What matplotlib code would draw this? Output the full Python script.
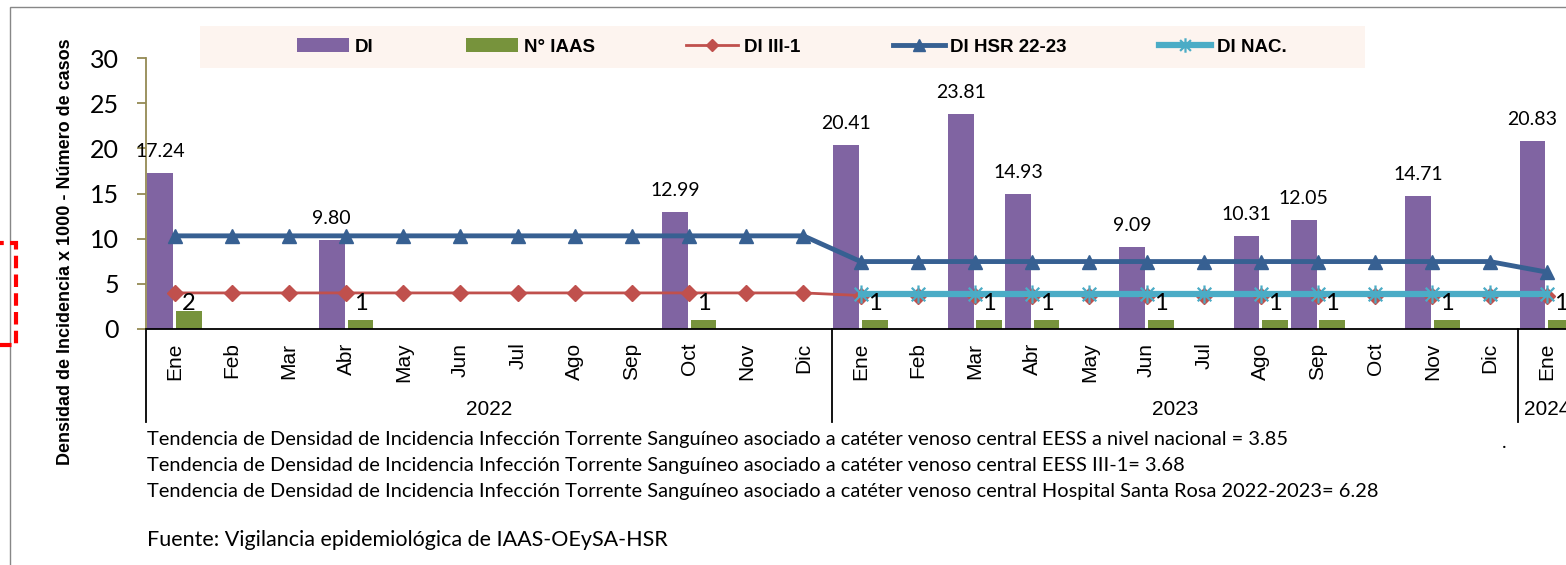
import matplotlib
matplotlib.use("Agg")
import matplotlib.pyplot as plt
import numpy as np
from matplotlib.patches import Rectangle
from matplotlib.path import Path

W, H = 1566, 565

months = ["Ene", "Feb", "Mar", "Abr", "May", "Jun", "Jul", "Ago", "Sep", "Oct", "Nov", "Dic",
          "Ene", "Feb", "Mar", "Abr", "May", "Jun", "Jul", "Ago", "Sep", "Oct", "Nov", "Dic",
          "Ene"]
years = ["2022", "2023", "2024"]
year_first = [0, 12, 24]
year_last = [11, 23, 24]

di = [17.24, 0, 0, 9.80, 0, 0, 0, 0, 0, 12.99, 0, 0,
      20.41, 0, 23.81, 14.93, 0, 9.09, 0, 10.31, 12.05, 0, 14.71, 0,
      20.83]
n_iaas = [2, 0, 0, 1, 0, 0, 0, 0, 0, 1, 0, 0,
          1, 0, 1, 1, 0, 1, 0, 1, 1, 0, 1, 0,
          1]
di_iii1 = [3.97, 3.97, 3.97, 3.97, 3.97, 3.97, 3.97, 3.97, 3.97, 3.97, 3.97, 3.97,
           3.68, 3.68, 3.68, 3.68, 3.68, 3.68, 3.68, 3.68, 3.68, 3.68, 3.68, 3.68,
           3.68]
di_hsr = [10.3, 10.3, 10.3, 10.3, 10.3, 10.3, 10.3, 10.3, 10.3, 10.3, 10.3, 10.3,
          7.45, 7.45, 7.45, 7.45, 7.45, 7.45, 7.45, 7.45, 7.45, 7.45, 7.45, 7.45,
          6.28]
di_nac = [np.nan] * 12 + [3.85, 3.85, 3.85, 3.85, 3.85, 3.85, 3.85, 3.85, 3.85, 3.85, 3.85, 3.85,
                          3.85]

notes = [
    "Tendencia de Densidad de Incidencia Infección Torrente Sanguíneo asociado a catéter venoso central EESS a nivel nacional = 3.85",
    "Tendencia de Densidad de Incidencia Infección Torrente Sanguíneo asociado a catéter venoso central EESS III-1= 3.68",
    "Tendencia de Densidad de Incidencia Infección Torrente Sanguíneo asociado a catéter venoso central Hospital Santa Rosa 2022-2023= 6.28",
]
source = "Fuente: Vigilancia epidemiológica de IAAS-OEySA-HSR"

PURPLE = "#8064A2"
GREEN = "#77933C"
RED = "#C0504D"
NAVY = "#376092"
CYAN = "#4BACC6"
OLIVE = "#948A54"
CAL = "Lato"
ARIAL = "Liberation Sans"

fig = plt.figure(figsize=(W / 100, H / 100), dpi=100)

# plot area (right side runs past the image edge, as in the screenshot)
left, right, bottom, top = 146, 1575.3, 328.7, 58.3
ax = fig.add_axes([left / W, 1 - bottom / H, (right - left) / W, (bottom - top) / H])

x = np.arange(len(months))
bars_di = ax.bar(x - 0.25, di, width=0.45, color=PURPLE, zorder=2, label="DI")
bars_n = ax.bar(x + 0.25, n_iaas, width=0.45, color=GREEN, zorder=2, label="N° IAAS")

star = Path([(0, -1), (0, 1), (-0.75, -0.75), (0.75, 0.75), (-0.75, 0.75), (0.75, -0.75)],
            [Path.MOVETO, Path.LINETO, Path.MOVETO, Path.LINETO, Path.MOVETO, Path.LINETO])

l_iii = ax.plot(x, di_iii1, color=RED, lw=2, marker="D", ms=8, zorder=3, label="DI III-1")[0]
l_hsr = ax.plot(x, di_hsr, color=NAVY, lw=3.5, marker="^", ms=10, zorder=4, label="DI HSR 22-23")[0]
l_nac = ax.plot(x, di_nac, color=CYAN, lw=4.5, marker=star, ms=13, mew=1.6, zorder=5,
                label="DI NAC.")[0]

for i, v in enumerate(di):
    if v > 0:
        ax.annotate(f"{v:.2f}", (i - 0.25, v), xytext=(0, 11.5), textcoords="offset points",
                    ha="center", va="baseline", fontsize=14, family=CAL)
for i, v in enumerate(n_iaas):
    if v > 0:
        ax.text(i + 0.25, 2.05, str(v), ha="center", va="baseline", fontsize=17, family=CAL,
                zorder=6)

ax.set_xlim(-0.5, len(months) - 0.5)
ax.set_ylim(0, 30)
ax.set_yticks(range(0, 31, 5))
ax.set_xticks(x)
ax.set_xticklabels(months, rotation=90, fontsize=15, family=ARIAL, va="top")
ax.tick_params(axis="x", length=0, pad=10)
ax.tick_params(axis="y", length=6.5, width=1.3, color=OLIVE, pad=13, labelsize=18)
for t in ax.get_yticklabels():
    t.set_family(CAL)
for s in ["top", "right"]:
    ax.spines[s].set_visible(False)
ax.spines["left"].set_color(OLIVE)
ax.spines["left"].set_linewidth(1.3)
ax.spines["bottom"].set_color("black")
ax.spines["bottom"].set_linewidth(1.3)

# year groups under the month labels
trans = ax.get_xaxis_transform()
for a, b, yr in zip(year_first, year_last, years):
    ax.plot([a - 0.5, a - 0.5], [0, -0.345], transform=trans, color="black", lw=1.3, clip_on=False)
    ax.text((a + b) / 2, -0.30, yr, transform=trans, ha="center", va="center",
            fontsize=15, family=ARIAL)

fig.text(66 / W, 1 - 252 / H, "Densidad de Incidencia x 1000 - Número de casos", rotation=90,
         ha="center", va="center", fontsize=13, fontweight="bold", family=ARIAL)

# legend box
fig.patches.append(Rectangle((200 / W, 1 - 68 / H), (1365 - 200) / W, 42 / H,
                             transform=fig.transFigure, facecolor="#FDF4EF", edgecolor="none",
                             zorder=0))
fig.legend([bars_di, bars_n, l_iii, l_hsr, l_nac],
           ["DI", "N° IAAS", "DI III-1", "DI HSR 22-23", "DI NAC."],
           loc="center left", bbox_to_anchor=(297 / W, 1 - 47 / H), ncol=5, frameon=False,
           prop={"family": ARIAL, "weight": "bold", "size": 13.5},
           handlelength=2.77, handletextpad=0.32, columnspacing=4.9, borderpad=0,
           borderaxespad=0, markerscale=0.8)

for k, line in enumerate(notes):
    fig.text(147 / W, 1 - (440 + 26 * k) / H, line, ha="left", va="center", fontsize=14.4,
             family=CAL)
fig.text(147 / W, 1 - 540 / H, source, ha="left", va="center", fontsize=15.5, family=CAL)
fig.text(1504 / W, 1 - 442 / H, ".", ha="center", va="center", fontsize=14, family=CAL)

# outer chart frame and stray dashed marker at the left edge
fig.patches.append(Rectangle((10 / W, -0.1), 1.2, 1.1 - 7 / H, transform=fig.transFigure,
                             fill=False, edgecolor="#878787", lw=1))
fig.patches.append(Rectangle((-40 / W, 1 - 345 / H), 56 / W, 102 / H, transform=fig.transFigure,
                             fill=False, edgecolor="#FF0000", lw=3, ls=(0, (3, 1.5))))

fig.savefig("out.png", dpi=100)
